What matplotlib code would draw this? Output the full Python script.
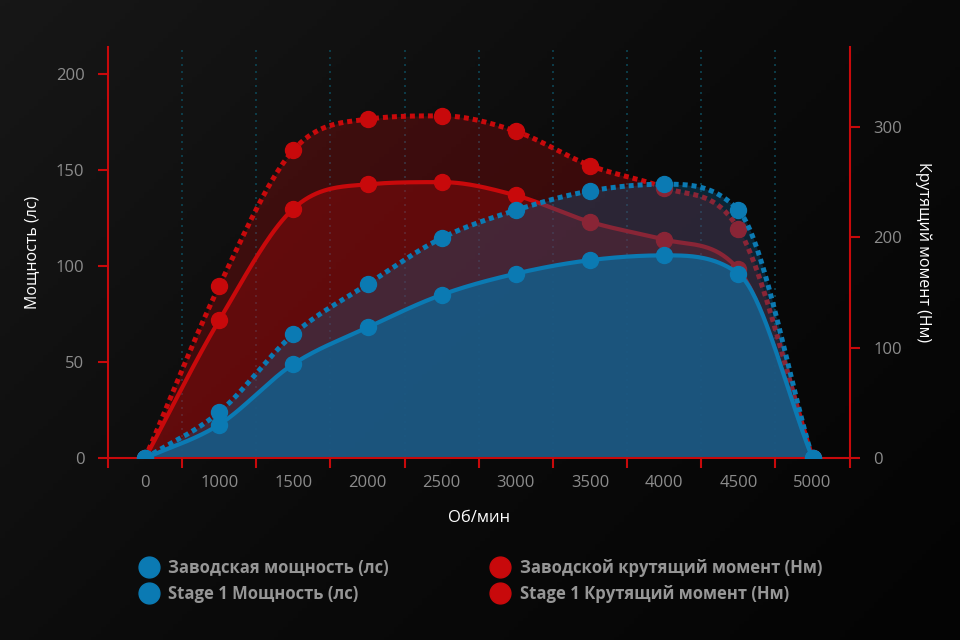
import numpy as np
import matplotlib
matplotlib.use("Agg")
import matplotlib.pyplot as plt
from matplotlib.lines import Line2D
from matplotlib.colors import LinearSegmentedColormap

plt.rcParams['font.family'] = ['Open Sans', 'DejaVu Sans']

rpm = ['0', '1000', '1500', '2000', '2500', '3000', '3500', '4000', '4500', '5000']
stock_hp = [0, 17.5, 49, 68, 85, 96, 103, 105.5, 96, 0]
stage1_hp = [0, 24, 64.5, 90.5, 114.5, 129, 139, 142.5, 129, 0]
stock_nm = [0, 125, 226, 248, 250, 238, 214, 198, 171, 0]
stage1_nm = [0, 156, 279, 307, 310, 296, 265, 245, 208, 0]

hp_ticks = [0, 50, 100, 150, 200]
nm_ticks = [0, 100, 200, 300]

RED = '#c8090b'
BLUE = '#0b7ab3'
GRID = '#0d4554'
TICK_TXT = '#8c8c8c'


def monotone(xs, ys, n=40):
    # Fritsch-Carlson monotone cubic, used only for drawing smooth lines
    xs = np.asarray(xs, float)
    ys = np.asarray(ys, float)
    h = np.diff(xs)
    d = np.diff(ys) / h
    m = np.zeros_like(ys)
    m[0], m[-1] = d[0], d[-1]
    for i in range(1, len(ys) - 1):
        m[i] = 0 if d[i - 1] * d[i] <= 0 else (d[i - 1] + d[i]) / 2
    for k in range(len(d)):
        if d[k] == 0:
            m[k] = m[k + 1] = 0
            continue
        a, b = m[k] / d[k], m[k + 1] / d[k]
        s = a * a + b * b
        if s > 9:
            t = 3 / np.sqrt(s)
            m[k], m[k + 1] = t * a * d[k], t * b * d[k]
    px, py = [], []
    for k in range(len(d)):
        t = np.linspace(0, 1, n)
        h00 = 2 * t**3 - 3 * t**2 + 1
        h10 = t**3 - 2 * t**2 + t
        h01 = -2 * t**3 + 3 * t**2
        h11 = t**3 - t**2
        px.append(xs[k] + t * h[k])
        py.append(h00 * ys[k] + h10 * h[k] * m[k] + h01 * ys[k + 1] + h11 * h[k] * m[k + 1])
    return np.concatenate(px), np.concatenate(py)


fig = plt.figure(figsize=(9.6, 6.4), dpi=100)

# background gradient
bg = fig.add_axes([0, 0, 1, 1], zorder=-10)
gx, gy = np.meshgrid(np.linspace(0, 1, 200), np.linspace(0, 1, 200))
cmap = LinearSegmentedColormap.from_list('bg', ['#171717', '#0b0b0b', '#040404'])
bg.imshow((gx * 0.6 + gy * 0.4), cmap=cmap, aspect='auto', extent=[0, 1, 0, 1], origin='upper')
bg.axis('off')

ax = fig.add_axes([0.1125, 0.284, 0.7725, 0.643])
ax2 = ax.twinx()
ax.set_zorder(2)
ax2.set_zorder(1)
ax.patch.set_visible(False)
ax2.patch.set_visible(False)

x = np.arange(len(rpm))

# torque (right axis, drawn behind)
for b in x[:-1] + 0.5:
    ax2.axvline(b, color=GRID, lw=1.2, ls=(0, (1.2, 3)), zorder=0)

sx, sy = monotone(x, stage1_nm)
ax2.fill_between(sx, sy, 0, color=RED, alpha=0.25, lw=0, zorder=1)
ax2.plot(sx, sy, color=RED, lw=3.6, ls=(0, (1, 0.8)), dash_capstyle='butt', zorder=2)
ax2.plot(x, stage1_nm, 'o', color=RED, ms=11.5, zorder=3)

sx, sy = monotone(x, stock_nm)
ax2.fill_between(sx, sy, 0, color=RED, alpha=0.27, lw=0, zorder=1)
ax2.plot(sx, sy, color=RED, lw=3, zorder=2)
ax2.plot(x, stock_nm, 'o', color=RED, ms=11.5, zorder=3)

# power (left axis, on top)
sx, sy = monotone(x, stage1_hp)
ax.fill_between(sx, sy, 0, color='#115d8b', alpha=0.34, lw=0, zorder=1)
ax.plot(sx, sy, color=BLUE, lw=3.6, ls=(0, (1, 0.8)), dash_capstyle='butt', zorder=2)
ax.plot(x, stage1_hp, 'o', color=BLUE, ms=11.5, zorder=3)

sx, sy = monotone(x, stock_hp)
ax.fill_between(sx, sy, 0, color='#175a85', alpha=0.9, lw=0, zorder=1)
ax.plot(sx, sy, color=BLUE, lw=3, zorder=2)
ax.plot(x, stock_hp, 'o', color=BLUE, ms=11.5, zorder=3)

ax.set_xlim(-0.5, len(rpm) - 0.5)
ax.set_ylim(0, 214)
ax2.set_ylim(0, 372.6)

ax.set_xticks(x, rpm)
ax.set_xticks(np.arange(-0.5, len(rpm), 1), minor=True)
ax.tick_params(axis='x', which='major', length=0, pad=12, labelcolor=TICK_TXT, labelsize=12)
ax.tick_params(axis='x', which='minor', length=7, width=1.5, color=RED, direction='out')
ax.set_yticks(hp_ticks)
ax.tick_params(axis='y', length=7, width=1.5, color=RED, labelcolor=TICK_TXT, labelsize=12, pad=10)
ax2.set_yticks(nm_ticks)
ax2.tick_params(axis='y', length=7, width=1.5, color=RED, labelcolor=TICK_TXT, labelsize=12, pad=10)

for s in ['top', 'right']:
    ax.spines[s].set_visible(False)
for s in ['top', 'left', 'bottom']:
    ax2.spines[s].set_visible(False)
for sp in [ax.spines['left'], ax.spines['bottom'], ax2.spines['right']]:
    sp.set_color(RED)
    sp.set_linewidth(1.5)

ax.set_ylabel('Мощность (лс)', color='white', fontsize=11.5, labelpad=11)
ax2.set_ylabel('Крутящий момент (Нм)', color='white', fontsize=11.5, rotation=270, labelpad=21)
ax.set_xlabel('Об/мин', color='white', fontsize=12, labelpad=14)

handles = [
    Line2D([], [], ls='none', marker='o', ms=15, color=BLUE, label='Заводская мощность (лс)'),
    Line2D([], [], ls='none', marker='o', ms=15, color=BLUE, label='Stage 1 Мощность (лс)'),
    Line2D([], [], ls='none', marker='o', ms=15, color=RED, label='Заводской крутящий момент (Нм)'),
    Line2D([], [], ls='none', marker='o', ms=15, color=RED, label='Stage 1 Крутящий момент (Нм)'),
]
leg = fig.legend(handles=handles, ncol=2, loc='center', bbox_to_anchor=(0.503, 0.092),
                 frameon=False, handlelength=0.6, handletextpad=0.85, columnspacing=6.4,
                 labelspacing=0.5, prop={'weight': 'bold', 'size': 12})
for t in leg.get_texts():
    t.set_color('#969696')

fig.savefig('out.png', dpi=100)
